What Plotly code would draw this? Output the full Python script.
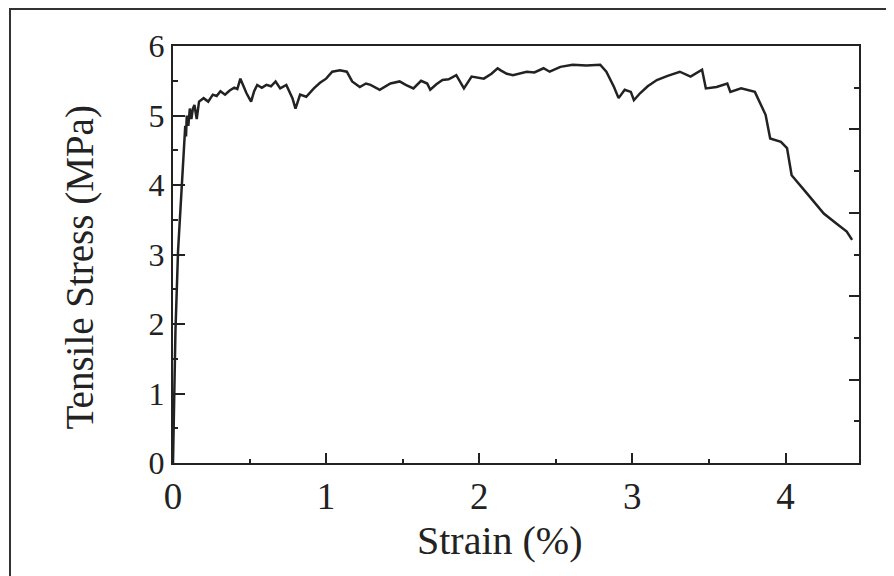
import plotly.graph_objects as go

strain = [0, 0.007, 0.016, 0.033, 0.05, 0.06, 0.072, 0.08, 0.085, 0.09, 0.10, 0.11, 0.12, 0.13,
          0.14, 0.155, 0.17, 0.2, 0.23, 0.26, 0.285, 0.31, 0.34, 0.37, 0.40, 0.42, 0.44, 0.46,
          0.48, 0.51, 0.53, 0.55, 0.58, 0.61, 0.64, 0.67, 0.70, 0.74, 0.765, 0.78, 0.80, 0.83,
          0.87, 0.92, 0.96, 1.0, 1.04, 1.09, 1.135, 1.17, 1.22, 1.26, 1.29, 1.35, 1.42, 1.48,
          1.52, 1.57, 1.62, 1.66, 1.68, 1.72, 1.76, 1.80, 1.85, 1.90, 1.95, 2.03, 2.08, 2.12,
          2.14, 2.18, 2.22, 2.31, 2.36, 2.42, 2.46, 2.53, 2.61, 2.70, 2.79, 2.83, 2.88, 2.91,
          2.95, 2.99, 3.01, 3.05, 3.10, 3.16, 3.23, 3.31, 3.38, 3.455, 3.48, 3.55, 3.62, 3.64,
          3.71, 3.76, 3.80, 3.84, 3.87, 3.90, 3.97, 4.01, 4.04, 4.14, 4.25, 4.33, 4.40, 4.435]
stress = [0, 0.9, 1.9, 3.05, 3.7, 4.05, 4.5, 4.85, 4.7, 5.0, 4.85, 5.1, 4.95, 5.1,
          5.15, 4.95, 5.2, 5.25, 5.2, 5.3, 5.28, 5.35, 5.3, 5.36, 5.4, 5.38, 5.53, 5.42,
          5.32, 5.2, 5.35, 5.44, 5.4, 5.44, 5.42, 5.49, 5.39, 5.44, 5.32, 5.25, 5.1, 5.3,
          5.27, 5.39, 5.47, 5.53, 5.63, 5.65, 5.63, 5.49, 5.41, 5.46, 5.44, 5.37, 5.46, 5.49,
          5.44, 5.39, 5.5, 5.46, 5.37, 5.45, 5.51, 5.52, 5.58, 5.39, 5.56, 5.53, 5.6, 5.68,
          5.65, 5.6, 5.58, 5.63, 5.62, 5.68, 5.63, 5.7, 5.73, 5.72, 5.73, 5.63, 5.41, 5.25,
          5.37, 5.34, 5.22, 5.32, 5.42, 5.51, 5.57, 5.63, 5.56, 5.66, 5.39, 5.41, 5.46, 5.34,
          5.39, 5.36, 5.34, 5.15, 5.01, 4.67, 4.62, 4.53, 4.14, 3.88, 3.59, 3.45, 3.33, 3.21]

x_ticks = [0, 1, 2, 3, 4]
y_ticks = [0, 1, 2, 3, 4, 5, 6]
x_title = "Strain (%)"
y_title = "Tensile Stress (MPa)"

ink = "#222222"
font_family = "Liberation Serif"

fig = go.Figure()
fig.add_trace(go.Scatter(x=strain, y=stress, mode="lines",
                         line=dict(color=ink, width=2.5), showlegend=False,
                         hoverinfo="skip"))
# empty trace so the right-hand tick axis is drawn
fig.add_trace(go.Scatter(x=[], y=[], yaxis="y2", mode="lines", showlegend=False,
                         hoverinfo="skip"))

fig.update_layout(
    width=894, height=576,
    margin=dict(l=165, r=43, t=38, b=121),
    paper_bgcolor="white", plot_bgcolor="white",
    font=dict(family=font_family, color=ink),
    xaxis=dict(range=[0, 4.48], tickvals=x_ticks, ticktext=[str(v) for v in x_ticks],
               ticks="inside", ticklen=10, tickwidth=1.5, tickcolor=ink,
               minor=dict(dtick=0.5, tick0=0, ticks="inside", ticklen=4, tickcolor=ink),
               showline=True, linecolor=ink, linewidth=2, mirror=True,
               showgrid=False, zeroline=False,
               tickfont=dict(size=37, family=font_family, color=ink)),
    yaxis=dict(range=[0, 6], tickvals=y_ticks, ticktext=[str(v) for v in y_ticks],
               ticks="inside", ticklen=12, tickwidth=1.5, tickcolor=ink,
               minor=dict(dtick=0.5, tick0=0, ticks="inside", ticklen=5, tickcolor=ink),
               showline=True, linecolor=ink, linewidth=2, mirror=True,
               showgrid=False, zeroline=False,
               tickfont=dict(size=32, family=font_family, color=ink)),
    yaxis2=dict(range=[0, 6], overlaying="y", side="right", tick0=0, dtick=1.2,
                ticks="inside", ticklen=10, tickwidth=1.5, tickcolor=ink,
                minor=dict(dtick=0.6, tick0=0, ticks="inside", ticklen=5, tickcolor=ink),
                showticklabels=False, showline=True, linecolor=ink, linewidth=2,
                showgrid=False, zeroline=False),
    annotations=[
        dict(text=x_title, xref="paper", yref="paper", x=0.4767, y=-0.1847,
             xanchor="center", yanchor="middle", showarrow=False,
             font=dict(size=40, family=font_family, color=ink)),
        dict(text=y_title, xref="paper", yref="paper", x=-0.137, y=0.4688,
             xanchor="center", yanchor="middle", textangle=-90, showarrow=False,
             font=dict(size=39, family=font_family, color=ink)),
    ],
    shapes=[dict(type="rect", xref="paper", yref="paper",
                 x0=-0.2376, y0=-0.35, x1=1.1, y1=1.0887,
                 line=dict(color="#333333", width=2), layer="below")],
)

fig.write_html("out.html")
